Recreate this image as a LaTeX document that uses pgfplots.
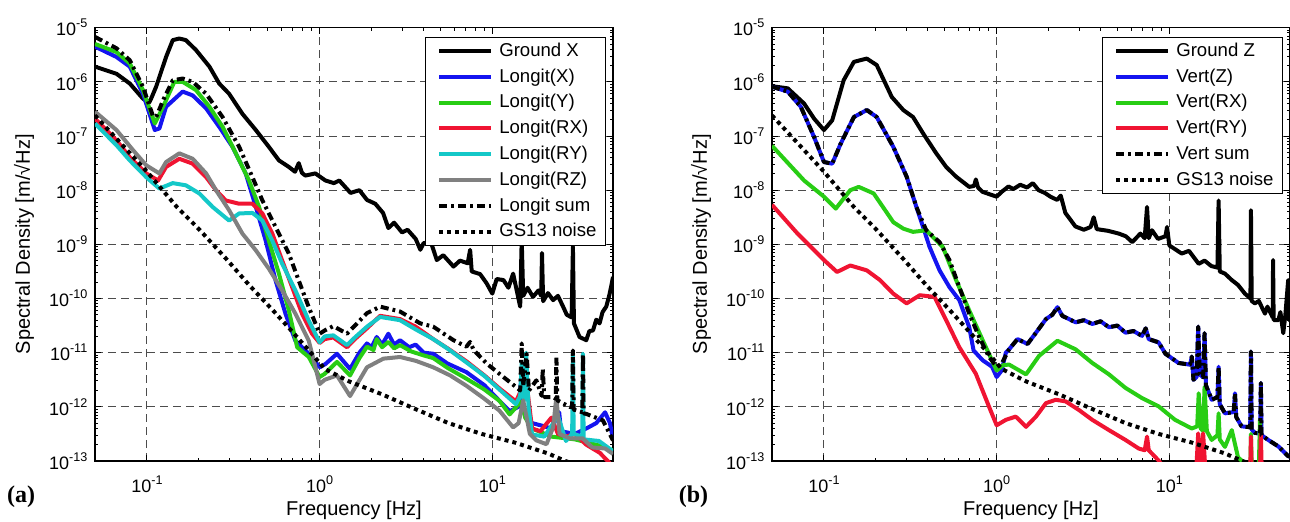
\documentclass[border=0pt]{standalone}
\usepackage{pgfplots}
\pgfplotsset{compat=1.18}
\usepackage{fontspec}
\setmainfont{Liberation Sans}
\newfontfamily\serifbf{Liberation Serif}
\definecolor{cblue}{RGB}{20,20,240}
\definecolor{cgreen}{RGB}{40,205,20}
\definecolor{cred}{RGB}{240,20,50}
\definecolor{ccyan}{RGB}{20,200,200}
\definecolor{cgray}{RGB}{128,128,128}
\newcommand\sups[1]{\raisebox{4pt}{\fontsize{6.3}{6.3}\selectfont #1}}
\pgfplotsset{
  legend image code/.code={\path (0pt,0pt); \draw[#1] (3.5pt,0pt) -- (29.5pt,0pt);},
  every axis plot/.append style={line width=2pt, line join=round},
}
\begin{document}
\begin{tikzpicture}
\useasboundingbox (0,0) rectangle (645pt,261pt);
% ---------------- panel (a) ----------------
\begin{axis}[at={(47.5pt,30.5pt)}, anchor=south west,
    xmode=log, ymode=log,
    scale only axis, width=259pt, height=216.65pt,
    xmin=0.05, xmax=50, ymin=1e-13, ymax=1e-5,
    xtick={0.1,1,10},
    xticklabels={10\sups{-1},10\sups{0},10\sups{1}},
    ytick={1e-13,1e-12,1e-11,1e-10,1e-9,1e-8,1e-7,1e-6,1e-5},
    yticklabels={10\sups{-13},10\sups{-12},10\sups{-11},10\sups{-10},10\sups{-9},10\sups{-8},10\sups{-7},10\sups{-6},10\sups{-5}},
    tick align=inside,
    major tick length=3pt, minor tick length=1.6pt,
    every tick/.style={black, line width=0.5pt},
    grid=major,
    major grid style={dash pattern=on 4pt off 2.5pt, line width=0.5pt, black!70},
    axis line style={line width=0.75pt},
    tick label style={font=\fontsize{9}{9}\selectfont},
    xticklabel style={yshift=-4pt},
    yticklabel style={xshift=-0.3pt},
    label style={font=\fontsize{10}{11}\selectfont},
    every axis y label/.style={at={(axis description cs:-0.137,0.5)}, rotate=90, anchor=center},
    every axis x label/.style={at={(axis description cs:0.5,-0.113)}, anchor=center},
    xlabel={Frequency [Hz]},
    ylabel={Spectral Density [m/√Hz]},
    legend cell align=left,
    legend style={at={(rel axis cs:0.9865,0.9786)}, anchor=north east,
      draw=black, line width=0.5pt, fill=white,
      font=\fontsize{9.3}{11}\selectfont,
      inner xsep=2.5pt, inner ysep=0.3pt, column sep=1pt, row sep=0pt,
      nodes={inner xsep=2pt, inner ysep=1.95pt, text height=7.2pt, text depth=1.8pt}},
  ]
\addplot[black] coordinates {
(0.05,1.91e-6)(0.0666,1.41e-6)(0.0795,9.33e-7)(0.0948,4.90e-7)(0.103,4.17e-7)(0.106,5.01e-7)
(0.113,8.13e-7)(0.129,2.88e-6)(0.141,5.89e-6)(0.154,6.31e-6)(0.168,5.89e-6)(0.192,3.89e-6)
(0.23,1.91e-6)(0.262,9.33e-7)(0.299,6.03e-7)(0.357,2.57e-7)(0.427,1.29e-7)(0.508,6.31e-8)
(0.581,3.55e-8)(0.663,2.69e-8)(0.72,2.19e-8)(0.757,3.16e-8)(0.79,2.09e-8)(0.826,1.86e-8)
(0.944,2.04e-8)(1.08,1.51e-8)(1.21,1.35e-8)(1.3,1.51e-8)(1.51,8.91e-9)(1.7,1.0e-8)
(1.88,6.61e-9)(2.1,5.62e-9)(2.33,3.80e-9)(2.5,2.0e-9)(2.7,2.51e-9)(3.0,1.66e-9)(3.23,1.86e-9)
(3.6,1.26e-9)(3.83,7.94e-10)(4.0,1.05e-9)(4.4,1.12e-9)(4.77,5.13e-10)(5.2,6.31e-10)(5.96,3.89e-10)
(6.5,5.01e-10)(7.2,4.47e-10)(7.44,7.94e-10)(7.6,3.16e-10)(8.5,2.82e-10)(9.27,1.91e-10)(10.0,1.23e-10)
(10.6,2.29e-10)(11.6,2.19e-10)(12.4,1.58e-10)(13.2,2.88e-10)(14.5,7.08e-11)(14.8,1.23e-9)(15.1,1.12e-10)
(16,1.58e-10)(17.2,1.07e-10)(18.5,1.41e-10)(19.2,1.12e-10)(19.4,6.92e-10)(19.7,8.91e-11)(21,1.26e-10)
(22.5,9.33e-11)(24,1.12e-10)(25.7,7.08e-11)(27,5.01e-11)(28.8,4.47e-11)(29.3,9.12e-10)(29.7,3.47e-11)
(32,1.95e-11)(35,1.70e-11)(36.5,2.51e-11)(38.3,2.57e-11)(40,4.07e-11)(41.8,3.47e-11)(43.5,5.62e-11)
(45.7,7.08e-11)(47.5,1.12e-10)(49,1.78e-10)(50,2.51e-10)};
\addlegendentry{Ground X}
\addplot[cblue] coordinates {
(0.05,4.47e-6)(0.0666,2.88e-6)(0.0795,1.91e-6)(0.0948,6.03e-7)(0.111,1.29e-7)(0.118,1.38e-7)
(0.129,3.47e-7)(0.161,6.61e-7)(0.184,5.62e-7)(0.22,3.24e-7)(0.262,1.48e-7)(0.313,6.31e-8)
(0.373,2.04e-8)(0.427,4.90e-9)(0.487,1.17e-9)(0.556,2.14e-10)(0.634,5.25e-11)(0.724,1.66e-11)
(0.865,9.55e-12)(1.0,5.37e-12)(1.08,6.17e-12)(1.26,9.55e-12)(1.5,5.01e-12)(1.7,1.0e-11)
(1.88,1.48e-11)(2.0,1.26e-11)(2.14,1.95e-11)(2.3,1.41e-11)(2.5,2.24e-11)(2.7,1.41e-11)
(2.92,1.70e-11)(3.3,1.26e-11)(3.6,1.41e-11)(4.0,1.0e-11)(4.55,9.55e-12)(5.5,6.31e-12)
(7.08,4.37e-12)(9.0,2.51e-12)(11,1.29e-12)(12.6,8.32e-13)(14.2,1.0e-12)(14.7,3.16e-12)
(15.2,7.94e-13)(17,5.01e-13)(19.5,4.47e-13)(22,3.98e-13)(24.4,7.94e-13)(25,3.55e-13)
(30,3.16e-13)(35,3.98e-13)(40,5.01e-13)(45,7.94e-13)(48,5.01e-13)(50,2.51e-13)};
\addlegendentry{Longit(X)}
\addplot[cgreen] coordinates {
(0.05,5.01e-6)(0.0666,3.55e-6)(0.0795,2.19e-6)(0.0948,7.08e-7)(0.111,1.70e-7)(0.124,3.47e-7)
(0.144,1.0e-6)(0.161,1.0e-6)(0.192,7.08e-7)(0.23,3.47e-7)(0.274,1.48e-7)(0.327,4.79e-8)
(0.39,1.51e-8)(0.446,4.90e-9)(0.508,1.17e-9)(0.581,2.88e-10)(0.663,6.03e-11)(0.741,1.26e-11)
(0.865,8.32e-12)(1.0,3.55e-12)(1.07,4.07e-12)(1.26,6.76e-12)(1.5,3.80e-12)(1.7,7.94e-12)
(1.88,1.29e-11)(2.05,1.12e-11)(2.14,1.78e-11)(2.3,1.26e-11)(2.5,1.58e-11)(2.7,1.20e-11)
(2.92,1.38e-11)(3.4,1.05e-11)(4.0,8.91e-12)(4.55,7.94e-12)(5.5,5.25e-12)(7.08,3.31e-12)
(9.0,2.09e-12)(11,1.29e-12)(12.6,7.24e-13)(14.7,1.26e-12)(15.5,6.31e-13)(17,3.98e-13)
(22,2.82e-13)(30,2.51e-13)(40,2.0e-13)(50,1.58e-13)};
\addlegendentry{Longit(Y)}
\addplot[cred] coordinates {
(0.05,2.09e-7)(0.0666,8.32e-8)(0.0795,4.07e-8)(0.099,2.04e-8)(0.116,1.51e-8)(0.129,2.69e-8)
(0.154,3.80e-8)(0.184,3.09e-8)(0.22,1.74e-8)(0.251,1.0e-8)(0.286,6.46e-9)(0.342,5.62e-9)
(0.408,5.62e-9)(0.466,3.72e-9)(0.532,1.58e-9)(0.607,5.01e-10)(0.693,1.62e-10)(0.791,5.25e-11)
(0.904,2.24e-11)(1.0,1.51e-11)(1.07,1.78e-11)(1.2,1.91e-11)(1.44,1.26e-11)(1.6,1.78e-11)
(1.88,2.82e-11)(2.24,4.79e-11)(2.92,4.17e-11)(3.6,3.02e-11)(4.55,1.78e-11)(5.7,1.12e-11)
(7.08,6.92e-12)(9,3.80e-12)(11,2.19e-12)(13.7,1.26e-12)(15.7,3.16e-12)(17,3.98e-13)
(19,3.55e-13)(22,6.31e-13)(24,3.16e-13)(26.7,2.82e-13)(30,3.16e-13)(35,2.0e-13)
(42,1.41e-13)(45,1.12e-13)(50,7.94e-14)};
\addlegendentry{Longit(RX)}
\addplot[ccyan] coordinates {
(0.05,1.70e-7)(0.0666,6.76e-8)(0.0795,3.55e-8)(0.099,1.74e-8)(0.118,1.07e-8)(0.141,1.35e-8)
(0.168,1.23e-8)(0.201,8.71e-9)(0.24,4.90e-9)(0.299,2.75e-9)(0.342,3.72e-9)(0.408,3.80e-9)
(0.466,2.75e-9)(0.532,1.17e-9)(0.607,4.37e-10)(0.724,1.41e-10)(0.865,3.89e-11)(1.0,1.55e-11)
(1.07,2.0e-11)(1.2,2.09e-11)(1.44,1.38e-11)(1.6,1.91e-11)(1.88,3.02e-11)(2.24,4.57e-11)
(2.92,3.98e-11)(3.6,2.69e-11)(4.55,1.78e-11)(5.7,1.10e-11)(7.08,6.61e-12)(9,3.72e-12)
(11,2.09e-12)(13.7,1.12e-12)(14.5,1.58e-12)(14.8,6.46e-12)(15.2,1.26e-12)(15.7,1.0e-11)
(16.2,1.0e-12)(17,3.09e-13)(20,2.82e-13)(24,6.76e-13)(26.7,2.34e-13)(29,3.16e-13)
(29.3,9.55e-12)(29.6,3.16e-13)(33.2,2.82e-13)(33.5,9.55e-12)(33.8,2.51e-13)(41.5,2.34e-13)
(49.5,1.55e-13)(50,1.5e-13)};
\addlegendentry{Longit(RY)}
\addplot[cgray] coordinates {
(0.05,2.82e-7)(0.0666,1.29e-7)(0.083,5.50e-8)(0.099,2.88e-8)(0.118,2.04e-8)(0.129,3.31e-8)
(0.154,4.79e-8)(0.184,3.80e-8)(0.22,2.04e-8)(0.251,1.0e-8)(0.299,4.27e-9)(0.357,1.58e-9)
(0.427,7.76e-10)(0.508,3.55e-10)(0.607,1.41e-10)(0.724,5.25e-11)(0.865,1.66e-11)(1.0,2.63e-12)
(1.07,3.16e-12)(1.26,3.80e-12)(1.5,1.58e-12)(1.88,5.37e-12)(2.34,7.76e-12)(2.92,8.32e-12)
(3.6,7.08e-12)(4.55,5.37e-12)(5.7,3.80e-12)(7.08,2.45e-12)(9,1.41e-12)(11,8.51e-13)
(13.2,4.17e-13)(14.2,5.0e-13)(15.1,1.32e-12)(16.5,3.16e-13)(18,2.40e-13)(20.6,2.04e-13)
(22.5,4.17e-13)(23.5,1.51e-12)(24.5,3.16e-13)(28,2.63e-13)(33.3,2.63e-13)(38,1.78e-13)
(45,1.70e-13)(50,1.35e-13)};
\addlegendentry{Longit(RZ)}
\addplot[black, dash pattern=on 4pt off 2pt on 1.4pt off 2pt] coordinates {
(0.05,6.76e-6)(0.0666,4.17e-6)(0.0795,2.51e-6)(0.0948,8.13e-7)(0.108,2.40e-7)(0.113,2.24e-7)
(0.124,4.57e-7)(0.141,1.07e-6)(0.161,1.15e-6)(0.184,1.0e-6)(0.22,6.03e-7)(0.274,2.24e-7)
(0.342,6.31e-8)(0.408,1.74e-8)(0.466,6.46e-9)(0.556,2.09e-9)(0.663,6.76e-10)(0.757,2.14e-10)
(0.865,6.92e-11)(1.0,2.24e-11)(1.07,2.57e-11)(1.2,3.09e-11)(1.44,2.24e-11)(1.6,3.16e-11)
(1.88,5.37e-11)(2.24,7.08e-11)(2.92,5.75e-11)(3.83,3.47e-11)(4.55,3.02e-11)(5.96,1.70e-11)
(7.08,1.29e-11)(7.44,1.58e-11)(7.8,1.12e-11)(9.27,6.31e-12)(11.6,3.55e-12)(13.8,2.29e-12)
(14.5,2.0e-12)(14.8,1.48e-11)(15.1,2.40e-12)(15.8,9.55e-12)(16.3,2.0e-12)(18,3.09e-12)
(19.3,1.60e-12)(19.6,5.01e-12)(20,1.51e-12)(22.5,1.51e-12)(23.3,1.41e-12)(23.5,8.32e-12)
(23.8,1.32e-12)(28,1.0e-12)(29.0,1.0e-12)(29.3,1.10e-11)(29.6,8.91e-13)(33.2,7.94e-13)
(33.5,9.55e-12)(33.8,7.59e-13)(35,7.41e-13)(43.7,5.62e-13)(50,2.40e-13)};
\addlegendentry{Longit sum}
\addplot[black, dash pattern=on 2pt off 2pt] coordinates {
(0.05,2.40e-7)(0.0767,5.50e-8)(0.1,2.19e-8)(0.149,4.90e-9)(0.2,1.91e-9)(0.29,5.25e-10)
(0.39,1.78e-10)(0.53,6.31e-11)(0.68,2.63e-11)(0.9,9.55e-12)(1.07,5.01e-12)(1.48,2.95e-12)
(2.3,1.70e-12)(3.58,9.12e-13)(5.57,5.01e-13)(8.67,3.16e-13)(13.5,2.19e-13)(21,1.38e-13)
(26.5,1.0e-13)(40,6.31e-14)};
\addlegendentry{GS13 noise}
\end{axis}
% ---------------- panel (b) ----------------
\begin{axis}[at={(386pt,30.5pt)}, anchor=south west,
    xmode=log, ymode=log,
    scale only axis, width=259pt, height=216.65pt,
    xmin=0.05, xmax=50, ymin=1e-13, ymax=1e-5,
    xtick={0.1,1,10},
    xticklabels={10\sups{-1},10\sups{0},10\sups{1}},
    ytick={1e-13,1e-12,1e-11,1e-10,1e-9,1e-8,1e-7,1e-6,1e-5},
    yticklabels={10\sups{-13},10\sups{-12},10\sups{-11},10\sups{-10},10\sups{-9},10\sups{-8},10\sups{-7},10\sups{-6},10\sups{-5}},
    tick align=inside,
    major tick length=3pt, minor tick length=1.6pt,
    every tick/.style={black, line width=0.5pt},
    grid=major,
    major grid style={dash pattern=on 4pt off 2.5pt, line width=0.5pt, black!70},
    axis line style={line width=0.75pt},
    tick label style={font=\fontsize{9}{9}\selectfont},
    xticklabel style={yshift=-4pt},
    yticklabel style={xshift=-0.3pt},
    label style={font=\fontsize{10}{11}\selectfont},
    every axis y label/.style={at={(axis description cs:-0.137,0.5)}, rotate=90, anchor=center},
    every axis x label/.style={at={(axis description cs:0.5,-0.113)}, anchor=center},
    xlabel={Frequency [Hz]},
    ylabel={Spectral Density [m/√Hz]},
    legend cell align=left,
    legend style={at={(rel axis cs:0.9865,0.9786)}, anchor=north east,
      draw=black, line width=0.5pt, fill=white,
      font=\fontsize{9.3}{11}\selectfont,
      inner xsep=2.5pt, inner ysep=0.3pt, column sep=1pt, row sep=0pt,
      nodes={inner xsep=2pt, inner ysep=1.95pt, text height=7.2pt, text depth=1.8pt}},
  ]
\addplot[black] coordinates {
(0.05,8.32e-7)(0.0617,7.59e-7)(0.0767,3.98e-7)(0.0877,2.09e-7)(0.1,1.29e-7)(0.1116,1.95e-7)
(0.13,1.07e-6)(0.149,2.34e-6)(0.177,2.69e-6)(0.202,2.04e-6)(0.247,5.25e-7)(0.288,3.02e-7)
(0.328,2.24e-7)(0.375,1.12e-7)(0.447,4.79e-8)(0.51,2.69e-8)(0.582,1.78e-8)(0.694,1.15e-8)
(0.74,1.20e-8)(0.758,1.58e-8)(0.78,1.12e-8)(0.828,9.33e-9)(0.9,8.51e-9)(1.0,7.59e-9)
(1.07,9.33e-9)(1.17,1.17e-8)(1.25,1.05e-8)(1.37,1.26e-8)(1.5,1.12e-8)(1.62,1.35e-8)
(1.75,1.0e-8)(1.9,8.91e-9)(2.05,7.59e-9)(2.24,6.61e-9)(2.35,7.94e-9)(2.5,3.80e-9)
(2.86,2.14e-9)(3.2,1.86e-9)(3.5,2.09e-9)(3.65,3.16e-9)(3.8,1.91e-9)(4.4,1.78e-9)
(5.1,1.58e-9)(5.6,1.41e-9)(6.1,1.10e-9)(6.8,1.58e-9)(7.2,1.30e-9)(7.43,4.90e-9)(7.6,1.30e-9)
(7.94,1.82e-9)(8.6,1.26e-9)(9.5,1.41e-9)(9.7,2.09e-9)(10.0,9.55e-10)(11.8,6.76e-10)(13,7.59e-10)
(14.8,4.37e-10)(16,5.01e-10)(17.5,3.98e-10)(19.0,3.72e-10)(19.3,6.46e-9)(19.6,3.16e-10)
(21,2.88e-10)(23,2.19e-10)(25,1.78e-10)(27.4,1.23e-10)(29.5,1.0e-10)(29.7,4.27e-9)(30,9.0e-11)
(31.3,8.13e-11)(33,9.0e-11)(35.8,5.25e-11)(37,7.08e-11)(39.7,4.47e-11)(39.9,5.13e-10)(40.2,4.0e-11)
(42.8,3.98e-11)(44,5.62e-11)(45.7,2.29e-11)(47,5.0e-11)(48.8,2.19e-10)(49.3,4.0e-11)(50,6.0e-11)};
\addlegendentry{Ground Z}
\addplot[cblue] coordinates {
(0.05,8.13e-7)(0.0617,6.61e-7)(0.0734,3.47e-7)(0.0877,9.55e-8)(0.1,3.31e-8)(0.1116,3.09e-8)
(0.125,7.24e-8)(0.149,2.24e-7)(0.177,3.02e-7)(0.202,2.24e-7)(0.252,6.31e-8)(0.301,1.78e-8)
(0.343,4.90e-9)(0.375,2.09e-9)(0.409,8.91e-10)(0.467,3.31e-10)(0.533,1.62e-10)(0.608,9.33e-11)
(0.694,2.95e-11)(0.735,1.10e-11)(0.83,7.24e-12)(0.94,5.50e-12)(1.0,3.55e-12)(1.07,4.68e-12)
(1.13,1.0e-11)(1.18,1.15e-11)(1.32,1.78e-11)(1.51,1.45e-11)(1.69,2.34e-11)(1.93,4.17e-11)
(2.1,5.01e-11)(2.25,6.92e-11)(2.4,4.79e-11)(2.87,3.63e-11)(3.2,3.98e-11)(3.58,3.39e-11)
(4.0,3.80e-11)(4.47,2.95e-11)(5.0,3.16e-11)(5.57,2.34e-11)(6.2,2.51e-11)(6.95,2.04e-11)
(7.3,2.82e-11)(7.6,1.78e-11)(8.67,1.55e-11)(9.5,9.55e-12)(11.3,6.46e-12)(13.2,6.0e-12)
(13.5,8.51e-12)(13.8,3.16e-12)(14.4,3.55e-12)(14.7,3.02e-11)(15.0,3.98e-12)(15.7,3.5e-12)
(16.0,2.29e-11)(16.3,2.5e-12)(17.6,1.35e-12)(19.0,1.51e-12)(19.3,5.50e-12)(19.6,1.12e-12)
(21,7.59e-13)(23.6,8.0e-13)(24,1.78e-12)(24.4,6.5e-13)(26.2,4.37e-13)(29.4,4.2e-13)
(29.7,1.05e-11)(30.0,3.8e-13)(31.3,3.31e-13)(33.6,3.2e-13)(33.9,2.75e-12)(34.2,3.0e-13)
(37.4,2.45e-13)(42.8,1.86e-13)(48.8,1.23e-13)(50,1.2e-13)};
\addlegendentry{Vert(Z)}
\addplot[cgreen] coordinates {
(0.05,6.61e-8)(0.0767,1.51e-8)(0.1,7.59e-9)(0.117,4.57e-9)(0.142,1.0e-8)(0.159,1.15e-8)
(0.194,8.71e-9)(0.252,2.57e-9)(0.288,1.95e-9)(0.328,1.70e-9)(0.391,1.82e-9)(0.488,8.91e-10)
(0.582,2.19e-10)(0.694,6.03e-11)(0.83,1.70e-11)(1.0,4.68e-12)(1.09,5.89e-12)(1.18,6.03e-12)
(1.48,3.98e-12)(1.76,8.71e-12)(2.25,1.66e-11)(2.87,1.15e-11)(3.58,6.46e-12)(4.47,3.98e-12)
(5.57,2.24e-12)(6.95,1.45e-12)(8.67,1.02e-12)(10.8,5.75e-13)(13.5,3.98e-13)(14.5,4.37e-13)
(14.8,1.78e-12)(15.2,4.0e-13)(15.7,3.55e-13)(16.0,2.34e-12)(16.5,3.55e-13)(17.6,2.45e-13)
(19.0,3.0e-13)(19.3,7.59e-13)(19.6,2.5e-13)(21,1.82e-13)(23,3.72e-13)(25,1.17e-13)
(27.5,8.91e-14)(29.5,7.94e-14)(29.7,3.16e-13)(30.0,7.94e-14)(33,7.94e-14)(33.5,5.75e-13)
(34,7.94e-14)(50,6.31e-14)};
\addlegendentry{Vert(RX)}
\addplot[cred] coordinates {
(0.05,5.37e-9)(0.0703,1.58e-9)(0.1,5.13e-10)(0.119,3.09e-10)(0.142,4.07e-10)(0.177,3.31e-10)
(0.211,2.19e-10)(0.252,1.23e-10)(0.301,8.13e-11)(0.359,1.15e-10)(0.437,1.07e-10)(0.51,3.98e-11)
(0.608,1.26e-11)(0.758,4.07e-12)(0.904,1.0e-12)(1.0,4.57e-13)(1.13,5.75e-13)(1.29,6.61e-13)
(1.48,4.27e-13)(1.69,6.61e-13)(1.93,1.17e-12)(2.2,1.35e-12)(2.51,1.26e-12)(3.0,8.71e-13)
(3.58,5.75e-13)(4.47,3.72e-13)(5.57,2.45e-13)(6.65,1.70e-13)(7.2,1.58e-13)(7.43,2.82e-13)
(7.6,1.58e-13)(8.67,1.02e-13)(9.5,7.08e-14)(14.3,6.31e-14)(14.7,3.24e-13)(15.2,6.31e-14)
(15.7,3.24e-13)(16.2,6.31e-14)(29.4,6.31e-14)(29.7,2.82e-13)(30.0,6.31e-14)(33.5,6.31e-14)
(33.9,3.24e-13)(34.3,6.31e-14)(50,5.0e-14)};
\addlegendentry{Vert(RY)}
\addplot[black, dash pattern=on 4pt off 2pt on 1.4pt off 2pt] coordinates {
(0.05,8.13e-7)(0.0617,6.61e-7)(0.0734,3.47e-7)(0.0877,9.55e-8)(0.1,3.31e-8)(0.1116,3.09e-8)
(0.125,7.24e-8)(0.149,2.24e-7)(0.177,3.02e-7)(0.202,2.24e-7)(0.252,6.31e-8)(0.301,1.78e-8)
(0.343,4.90e-9)(0.391,1.82e-9)(0.467,1.10e-9)(0.533,5.13e-10)(0.608,1.62e-10)(0.694,5.25e-11)
(0.792,1.95e-11)(0.904,8.32e-12)(1.0,5.50e-12)(1.07,6.31e-12)(1.18,1.15e-11)(1.32,1.78e-11)
(1.51,1.45e-11)(1.69,2.34e-11)(1.93,4.17e-11)(2.1,5.01e-11)(2.25,6.92e-11)(2.4,4.79e-11)
(2.87,3.63e-11)(3.2,3.98e-11)(3.58,3.39e-11)(4.0,3.80e-11)(4.47,2.95e-11)(5.0,3.16e-11)
(5.57,2.34e-11)(6.2,2.51e-11)(6.95,2.04e-11)(7.3,2.82e-11)(7.6,1.78e-11)(8.67,1.55e-11)
(9.5,9.55e-12)(11.3,6.46e-12)(13.2,6.0e-12)(13.5,8.51e-12)(13.8,3.16e-12)(14.4,3.55e-12)
(14.7,3.02e-11)(15.0,3.98e-12)(15.7,3.5e-12)(16.0,2.29e-11)(16.3,2.5e-12)(17.6,1.35e-12)
(19.0,1.51e-12)(19.3,5.50e-12)(19.6,1.12e-12)(21,7.59e-13)(23.6,8.0e-13)(24,1.78e-12)
(24.4,6.5e-13)(26.2,4.37e-13)(29.4,4.2e-13)(29.7,1.05e-11)(30.0,3.8e-13)(31.3,3.31e-13)
(33.6,3.2e-13)(33.9,2.75e-12)(34.2,3.0e-13)(37.4,2.45e-13)(42.8,1.86e-13)(48.8,1.23e-13)
(50,1.2e-13)};
\addlegendentry{Vert sum}
\addplot[black, dash pattern=on 2pt off 2pt] coordinates {
(0.05,2.40e-7)(0.0767,5.50e-8)(0.1,2.19e-8)(0.149,4.90e-9)(0.2,1.91e-9)(0.29,5.25e-10)
(0.39,1.78e-10)(0.53,6.31e-11)(0.68,2.63e-11)(0.9,9.55e-12)(1.07,5.01e-12)(1.48,2.95e-12)
(2.3,1.70e-12)(3.58,9.12e-13)(5.57,5.01e-13)(8.67,3.16e-13)(13.5,2.19e-13)(21,1.38e-13)
(26.5,1.0e-13)(40,6.31e-14)};
\addlegendentry{GS13 noise}
\end{axis}
\node[font=\serifbf\bfseries\fontsize{12}{12}\selectfont] at (10.5pt,12.5pt) {(a)};
\node[font=\serifbf\bfseries\fontsize{12}{12}\selectfont] at (346.75pt,12.5pt) {(b)};
\end{tikzpicture}
\end{document}
